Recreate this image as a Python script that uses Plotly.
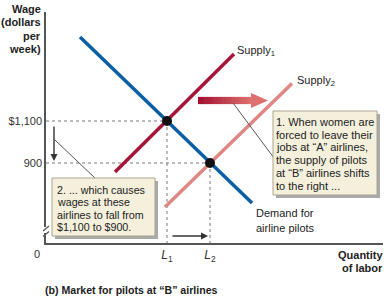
import plotly.graph_objects as go

# ---- data ----
demand_q = [34, 206]
demand_w = [1500, 710]
supply1_q = [69, 188]
supply1_w = [857, 1419]
supply2_q = [119, 246]
supply2_w = [690, 1278]
eq_q = [121, 164]
eq_w = [1100, 900]
wage_ticks = [1100, 900]
wage_ticktext = ["$1,100", "900"]
qty_ticktext = ["<i>L</i><sub>1</sub>", "<i>L</i><sub>2</sub>"]

W, H = 387, 300
ML, MR, MT, MB = 46, 4, 12, 57
PW, PH = W - ML - MR, H - MT - MB
XR = [0, 337]
YR = [519, 1619]
FONT = "Liberation Sans, Arial, sans-serif"


def px(x):
    return (x - ML) / PW


def py(y):
    return 1 - (y - MT) / PH


fig = go.Figure()

# dotted guide lines from equilibrium points
for q, w in zip(eq_q, eq_w):
    fig.add_trace(go.Scatter(x=[XR[0], q], y=[w, w], mode="lines",
                             line=dict(color="#7a7a7a", width=1, dash="dot"),
                             hoverinfo="skip", showlegend=False))
    fig.add_trace(go.Scatter(x=[q, q], y=[w, YR[0]], mode="lines",
                             line=dict(color="#7a7a7a", width=1, dash="dot"),
                             hoverinfo="skip", showlegend=False))

fig.add_trace(go.Scatter(x=supply2_q, y=supply2_w, mode="lines",
                         line=dict(color="#de8784", width=3.5), showlegend=False))
fig.add_trace(go.Scatter(x=supply1_q, y=supply1_w, mode="lines",
                         line=dict(color="#a5173a", width=3.5), showlegend=False))
fig.add_trace(go.Scatter(x=demand_q, y=demand_w, mode="lines",
                         line=dict(color="#0b5fa5", width=3.5), showlegend=False))
fig.add_trace(go.Scatter(x=eq_q, y=eq_w, mode="markers",
                         marker=dict(color="#111", size=10), showlegend=False))

shapes = []
annos = []

# axis break on the y axis
shapes.append(dict(type="rect", xref="paper", yref="paper",
                   x0=px(43), x1=px(49), y0=py(233), y1=py(227),
                   fillcolor="white", line=dict(width=0), layer="above"))
for yy in (228.5, 234):
    shapes.append(dict(type="line", xref="paper", yref="paper",
                       x0=px(43), x1=px(49), y0=py(yy + 2.5), y1=py(yy - 2.5),
                       line=dict(color="#555", width=1.2)))

# gradient shift arrow
x0, x1, yc = 198, 252, 100.5
n = 30
c0 = (163, 16, 46)
c1 = (222, 112, 112)
for i in range(n):
    t = i / (n - 1)
    c = tuple(int(round(a + (b - a) * t)) for a, b in zip(c0, c1))
    xa = x0 + (x1 - x0) * i / n
    xb = x0 + (x1 - x0) * (i + 1) / n + 0.6
    shapes.append(dict(type="rect", xref="paper", yref="paper",
                       x0=px(xa), x1=px(xb), y0=py(yc + 3.6), y1=py(yc - 3.6),
                       fillcolor="rgb(%d,%d,%d)" % c, line=dict(width=0)))
shapes.append(dict(type="path", xref="paper", yref="paper",
                   path="M %f %f L %f %f L %f %f Z" % (px(251), py(yc - 7.5), px(268), py(yc),
                                                        px(251), py(yc + 7.5)),
                   fillcolor="rgb(%d,%d,%d)" % c1, line=dict(width=0)))

# leader lines
shapes.append(dict(type="line", xref="paper", yref="paper",
                   x0=px(233), y0=py(103), x1=px(274), y1=py(158),
                   line=dict(color="#555", width=1)))
shapes.append(dict(type="line", xref="paper", yref="paper",
                   x0=px(55), y0=py(140), x1=px(96), y1=py(179),
                   line=dict(color="#555", width=1)))


def box(xa, ya, xb, yb):
    shapes.append(dict(type="rect", xref="paper", yref="paper",
                       x0=px(xa + 3), x1=px(xb + 3), y0=py(yb + 3), y1=py(ya + 3),
                       fillcolor="#a9a9a9", line=dict(width=0)))
    shapes.append(dict(type="rect", xref="paper", yref="paper",
                       x0=px(xa), x1=px(xb), y0=py(yb), y1=py(ya),
                       fillcolor="#f4f0dc", line=dict(color="#aaa58f", width=1)))


box(273, 111, 377, 195)
box(52, 178, 155, 236)


def text(s, x, y, size=11, anchor="left", bold=False, color="#222"):
    annos.append(dict(text=("<b>%s</b>" % s) if bold else s, xref="paper", yref="paper",
                      x=px(x), y=py(y), xanchor=anchor, yanchor="middle",
                      showarrow=False, borderpad=0, borderwidth=0,
                      font=dict(family=FONT, size=size, color=color)))


box1 = ["1. When women are", "forced to leave their", "jobs at \u201cA\u201d airlines,",
        "the supply of pilots", "at \u201cB\u201d airlines shifts", "to the right ..."]
for i, s in enumerate(box1):
    text(s, 276, 122 + i * 12.7)

box2 = ["2. ... which causes", "wages at these", "airlines to fall from",
        "$1,100 to $900."]
for i, s in enumerate(box2):
    text(s, 57, 189.5 + i * 12.6, size=10.7)

text("Supply<sub>1</sub>", 237, 51)
text("Supply<sub>2</sub>", 297, 81)
text("Demand for", 256, 213)
text("airline pilots", 256, 228)

for i, s in enumerate(["Wage", "(dollars", "per", "week)"]):
    text(s, 41, 9 + i * 13.3, anchor="right", bold=True)
text("Quantity", 383, 255, anchor="right", bold=True)
text("of labor", 383, 268, anchor="right", bold=True)
text("0", 37, 254, anchor="center", color="#333")
text("(b) Market for pilots at \u201cB\u201d airlines", 45, 290, size=10.6, bold=True)

# small arrows (head position in paper coords, tail offset in pixels)
annos.append(dict(xref="paper", yref="paper", x=px(54), y=py(161), ax=0, ay=-36,
                  axref="pixel", ayref="pixel", text="", showarrow=True,
                  arrowhead=2, arrowsize=1, arrowwidth=1.4, arrowcolor="#333"))
annos.append(dict(xref="paper", yref="paper", x=px(208), y=py(236), ax=-37, ay=0,
                  axref="pixel", ayref="pixel", text="", showarrow=True,
                  arrowhead=2, arrowsize=1, arrowwidth=1.4, arrowcolor="#333"))

fig.update_layout(
    width=W, height=H, margin=dict(l=ML, r=MR, t=MT, b=MB),
    plot_bgcolor="white", paper_bgcolor="white",
    shapes=shapes, annotations=annos, showlegend=False,
    font=dict(family=FONT, size=11, color="#333"),
    xaxis=dict(range=XR, showline=True, linecolor="#555", linewidth=1.5,
               showgrid=False, zeroline=False, tickvals=eq_q, ticktext=qty_ticktext,
               ticks="", tickfont=dict(size=12, color="#333")),
    yaxis=dict(range=YR, showline=True, linecolor="#555", linewidth=1.5,
               showgrid=False, zeroline=False, tickvals=wage_ticks, ticktext=wage_ticktext,
               ticks="", tickfont=dict(size=11, color="#333")),
)

fig.write_html("out.html")
